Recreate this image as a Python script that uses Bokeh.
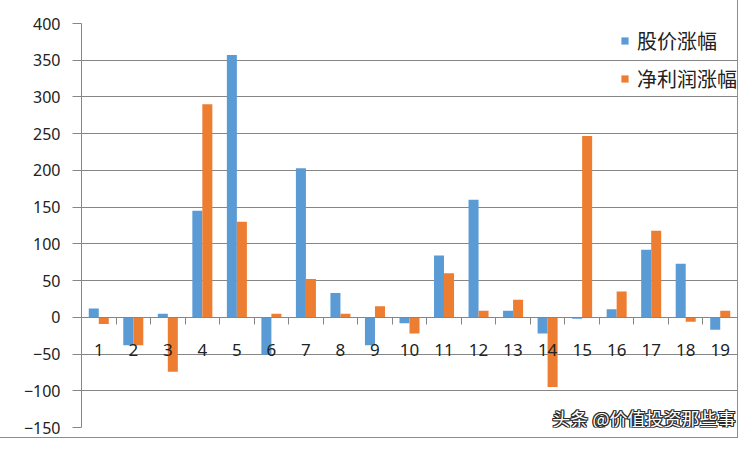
from bokeh.plotting import figure
from bokeh.models import (Range1d, FixedTicker, LinearAxis, Legend, LegendItem,
                          Label, ColumnDataSource)
from bokeh.transform import dodge
from bokeh.embed import file_html
from bokeh.resources import INLINE

categories = list(range(1, 20))
stock_gain = [12, -38, 5, 145, 357, -51, 203, 33, -38, -8, 84, 160, 9, -22, -2, 11, 92, 73, -17]
profit_gain = [-9, -38, -74, 290, 130, 5, 52, 5, 15, -22, 60, 9, 24, -95, 247, 35, 118, -6, 9]
series_names = ["股价涨幅", "净利润涨幅"]
y_ticks = [-150, -100, -50, 0, 50, 100, 150, 200, 250, 300, 350, 400]
watermark = "头条 @价值投资那些事"

BLUE = "#5B9BD5"
ORANGE = "#ED7D31"
GRID = "#868686"
TXT = "#222222"
NUM_FONT = "Noto Sans"
CJK_FONT = "Noto Sans CJK SC"

src = ColumnDataSource(dict(cat=categories, s=stock_gain, n=profit_gain))

p = figure(width=737, height=437, output_backend="svg", toolbar_location=None,
           x_range=Range1d(0.5, len(categories) + 0.5),
           y_range=Range1d(min(y_ticks), max(y_ticks)),
           x_axis_location=None, y_axis_location="left")
p.min_border_left = 81
p.min_border_right = 0
p.min_border_top = 23
p.min_border_bottom = 10
p.outline_line_color = None
p.background_fill_color = "white"
p.border_fill_color = "white"
p.styles = {"outline": "1px solid #8d8d8d"}

# y axis
ya = p.yaxis[0]
ya.ticker = FixedTicker(ticks=y_ticks)
ya.axis_line_color = GRID
ya.major_tick_line_color = GRID
ya.major_tick_out = 9
ya.major_tick_in = 0
ya.minor_tick_line_color = None
ya.major_label_standoff = 12
ya.major_label_text_font = NUM_FONT
ya.major_label_text_font_size = "16px"
ya.major_label_text_color = TXT

p.ygrid.ticker = FixedTicker(ticks=y_ticks)
p.ygrid.grid_line_color = GRID
p.xgrid.visible = False

# category axis at zero: boundary ticks
bound_axis = LinearAxis(fixed_location=0,
                        ticker=FixedTicker(ticks=[c + 0.5 for c in [0] + categories]))
bound_axis.axis_line_color = GRID
bound_axis.major_tick_line_color = GRID
bound_axis.major_tick_out = 7
bound_axis.major_tick_in = 0
bound_axis.minor_tick_line_color = None
bound_axis.major_label_text_color = None
p.add_layout(bound_axis, "below")

label_axis = LinearAxis(fixed_location=0, ticker=FixedTicker(ticks=categories))
label_axis.axis_line_color = None
label_axis.major_tick_line_color = None
label_axis.minor_tick_line_color = None
label_axis.major_tick_out = 0
label_axis.major_label_standoff = 27
label_axis.major_label_text_font = NUM_FONT
label_axis.major_label_text_font_size = "17px"
label_axis.major_label_text_color = TXT
p.add_layout(label_axis, "below")

bw = 0.29
r1 = p.vbar(x=dodge("cat", -bw / 2, range=p.x_range), top="s", bottom=0, width=bw,
            source=src, fill_color=BLUE, line_color=None)
r2 = p.vbar(x=dodge("cat", bw / 2, range=p.x_range), top="n", bottom=0, width=bw,
            source=src, fill_color=ORANGE, line_color=None)

legend = Legend(items=[LegendItem(label=series_names[0], renderers=[r1]),
                       LegendItem(label=series_names[1], renderers=[r2])],
                location="top_right")
legend.background_fill_alpha = 0
legend.border_line_color = None
legend.glyph_width = 9
legend.glyph_height = 9
legend.label_standoff = 8
legend.label_text_font = CJK_FONT
legend.label_text_font_size = "20px"
legend.label_text_color = TXT
legend.label_height = 34
legend.spacing = 4
legend.padding = 3
legend.margin = 0
p.add_layout(legend)

# watermark: white text with dark outline
wx, wy = 19.44, -136.5
for dx, dy in [(-1, 0), (1, 0), (0, -1), (0, 1), (-1, -1), (1, 1), (-1, 1), (1, -1)]:
    p.add_layout(Label(x=wx, y=wy, x_offset=dx, y_offset=dy, text=watermark,
                       text_font=CJK_FONT, text_font_size="18px", text_color="#2a2a2a",
                       text_align="right", text_baseline="middle"))
p.add_layout(Label(x=wx, y=wy, text=watermark, text_font=CJK_FONT, text_font_size="18px",
                   text_color="white", text_align="right", text_baseline="middle"))

open("out.html", "w").write(file_html(p, INLINE))
